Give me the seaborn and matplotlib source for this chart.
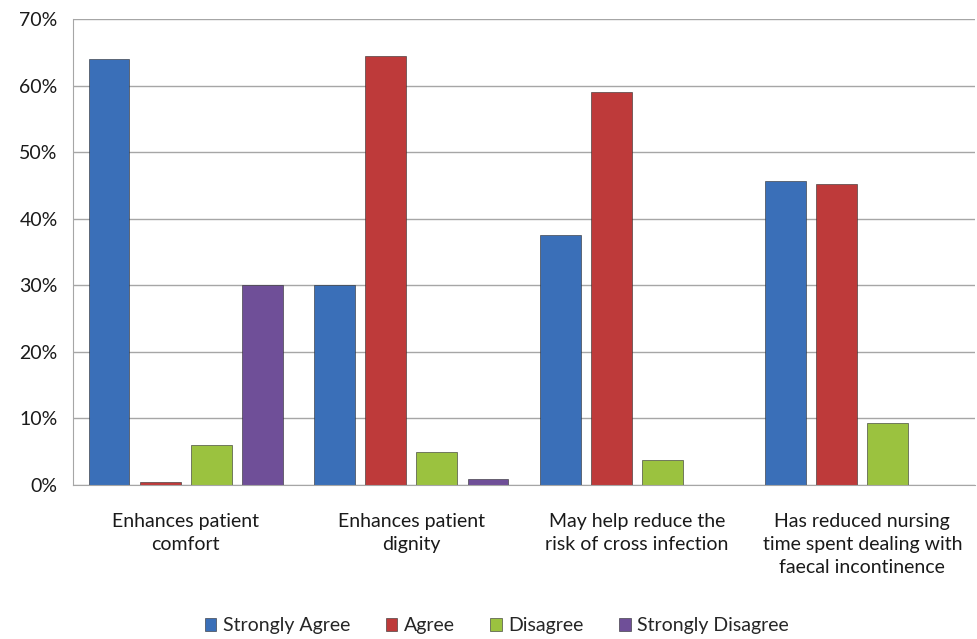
import numpy as np
import pandas as pd
import matplotlib
matplotlib.use('Agg')
import matplotlib.pyplot as plt
import seaborn as sns
from matplotlib.ticker import PercentFormatter

# survey statements and responses (% of respondents)
statements = ['Enhances patient\ncomfort',
              'Enhances patient\ndignity',
              'May help reduce the\nrisk of cross infection',
              'Has reduced nursing\ntime spent dealing with\nfaecal incontinence']
responses = ['Strongly Agree', 'Agree', 'Disagree', 'Strongly Disagree']
strongly_agree = [64.0, 30.0, 37.5, 45.6]
agree = [0.5, 64.4, 59.1, 45.2]
disagree = [6.0, 5.0, 3.8, 9.3]
strongly_disagree = [30.0, 0.9, 0.0, 0.0]

colors = ['#3A6FB8', '#BE3A3A', '#9BC23F', '#6F4F98']

df = pd.DataFrame({'statement': statements * 4,
                   'response': np.repeat(responses, 4),
                   'pct': strongly_agree + agree + disagree + strongly_disagree})

sns.set_style('white')
plt.rcParams['font.family'] = ['Lato', 'DejaVu Sans']

fig = plt.figure(figsize=(9.77, 6.39), dpi=100)
ax = fig.add_axes([0.0747, 0.241, 0.9233, 0.7293])

sns.barplot(data=df, x='statement', y='pct', hue='response', order=statements,
            hue_order=responses, palette=colors, saturation=1, width=0.907, gap=0.2,
            edgecolor='#2b2b2b', linewidth=0.4, ax=ax)

ax.set_ylim(0, 70)
ax.set_yticks(range(0, 71, 10))
ax.yaxis.set_major_formatter(PercentFormatter(decimals=0))
ax.set_xlim(-0.5, 3.5)
ax.grid(axis='y', color='#a6a6a6', linewidth=1.0)
ax.set_axisbelow(True)
for s in ['top', 'right']:
    ax.spines[s].set_visible(False)
ax.spines['left'].set_color('#a6a6a6')
ax.spines['bottom'].set_color('#a6a6a6')
ax.tick_params(axis='y', length=0, labelsize=14, colors='#1a1a1a', pad=11)
ax.tick_params(axis='x', length=0, labelsize=14, colors='#1a1a1a', pad=20)
for lab in ax.get_xticklabels():
    lab.set_linespacing(1.45)
ax.set_xlabel('')
ax.set_ylabel('')

leg = ax.legend(loc='lower center', bbox_to_anchor=(0.47, -0.358), ncol=4,
                frameon=False, fontsize=14, handlelength=0.6, handleheight=0.6,
                handletextpad=0.35, columnspacing=1.8)

fig.savefig('out.png', dpi=100)
